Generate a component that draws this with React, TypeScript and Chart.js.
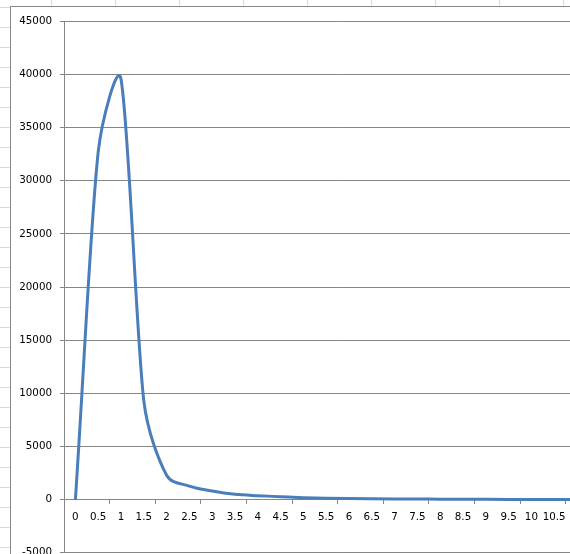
import React, { useEffect, useRef } from "react";
import { Chart, registerables } from "chart.js";

Chart.register(...registerables);

const categories: string[] = [
  "0", "0.5", "1", "1.5", "2", "2.5", "3", "3.5", "4", "4.5", "5", "5.5",
  "6", "6.5", "7", "7.5", "8", "8.5", "9", "9.5", "10", "10.5", "11", "11.5",
];

const seriesValues: number[] = [
  0, 32700, 39550, 9300, 2300, 1280, 810, 500, 370, 280, 190, 135,
  100, 80, 65, 55, 45, 35, 28, 22, 18, 15, 12, 10,
];

const yMin = -5000;
const yMax = 45000;
const yStep = 5000;

const GRID = "#868686";
const LINE = "#4a7ebb";
const FONT = { family: "'DejaVu Sans', sans-serif", size: 10.3 };
const TENSION = 0.4;

// Spreadsheet-style smoothing: Chart.js' distance-weighted control points,
// with each interior control arm limited to 1/6 of the neighbour chord.
const smoothPlugin = {
  id: "sheetSmooth",
  beforeDatasetDraw(chart: any, args: any) {
    const meta = args.meta;
    const line = meta.dataset;
    if (!line) return;
    line.updateControlPoints(chart.chartArea, meta.indexAxis);
    const pts = meta.data;
    const n = pts.length;
    for (let i = 0; i < n; i++) {
      const cur = pts[i];
      const prev = pts[i - 1] || cur;
      const next = pts[i + 1] || cur;
      const d01 = Math.hypot(cur.x - prev.x, cur.y - prev.y);
      const d12 = Math.hypot(next.x - cur.x, next.y - cur.y);
      const sum = d01 + d12 || 1;
      let fa = (TENSION * d01) / sum;
      let fb = (TENSION * d12) / sum;
      if (i > 0 && i < n - 1) {
        fa = Math.min(fa, 1 / 6);
        fb = Math.min(fb, 1 / 6);
      }
      const dx = next.x - prev.x;
      const dy = next.y - prev.y;
      cur.cp1x = cur.x - fa * dx;
      cur.cp1y = cur.y - fa * dy;
      cur.cp2x = cur.x + fb * dx;
      cur.cp2y = cur.y + fb * dy;
    }
  },
};

export default function App() {
  const ref = useRef<HTMLCanvasElement | null>(null);

  useEffect(() => {
    if (!ref.current) return;
    const chart = new Chart(ref.current, {
      type: "line",
      data: {
        labels: categories,
        datasets: [
          {
            data: seriesValues,
            borderColor: LINE,
            borderWidth: 3,
            pointRadius: 0,
            tension: TENSION,
            fill: false,
          },
        ],
      },
      options: {
        responsive: false,
        animation: false,
        layout: { padding: { left: 0, top: 13.6, right: 11.8, bottom: 13.6 } },
        plugins: { legend: { display: false }, tooltip: { enabled: false } },
        scales: {
          x: {
            type: "category",
            position: { y: 0 },
            offset: true,
            grid: {
              offset: true,
              drawOnChartArea: false,
              drawTicks: true,
              tickLength: 4,
              color: (ctx: any) =>
                typeof ctx.index === "number" && ctx.index % 2 === 0 ? GRID : "rgba(0,0,0,0)",
            },
            border: { display: true, color: GRID, width: 1 },
            ticks: {
              autoSkip: false,
              maxRotation: 0,
              minRotation: 0,
              padding: 7.5,
              color: "#000",
              font: FONT,
            },
          },
          y: {
            type: "linear",
            position: "left",
            min: yMin,
            max: yMax,
            grid: { color: GRID, lineWidth: 1, drawTicks: true, tickLength: 4 },
            border: { display: true, color: GRID, width: 1 },
            ticks: {
              stepSize: yStep,
              padding: 8,
              color: "#000",
              font: FONT,
              callback: (v: any) => String(v),
            },
            afterFit: (scale: any) => {
              scale.width = 53;
            },
          },
        },
      },
      plugins: [smoothPlugin],
    });
    return () => chart.destroy();
  }, []);

  return (
    <div
      style={{
        position: "fixed",
        left: 0,
        top: 0,
        width: 570,
        height: 554,
        overflow: "hidden",
        backgroundColor: "#fff",
        backgroundImage:
          "linear-gradient(to right, #d9d9d9 1px, transparent 1px), linear-gradient(to bottom, #d9d9d9 1px, transparent 1px)",
        backgroundSize: "64px 100%, 100% 20px",
        backgroundPosition: "51px 0, 0 7px",
      }}
    >
      <div
        style={{
          position: "absolute",
          left: 10,
          top: 6,
          width: 700,
          height: 700,
          background: "#fff",
          border: "1px solid #898989",
        }}
      >
        <canvas ref={ref} width={612} height={560} style={{ position: "absolute", left: 0, top: 0 }} />
      </div>
    </div>
  );
}
